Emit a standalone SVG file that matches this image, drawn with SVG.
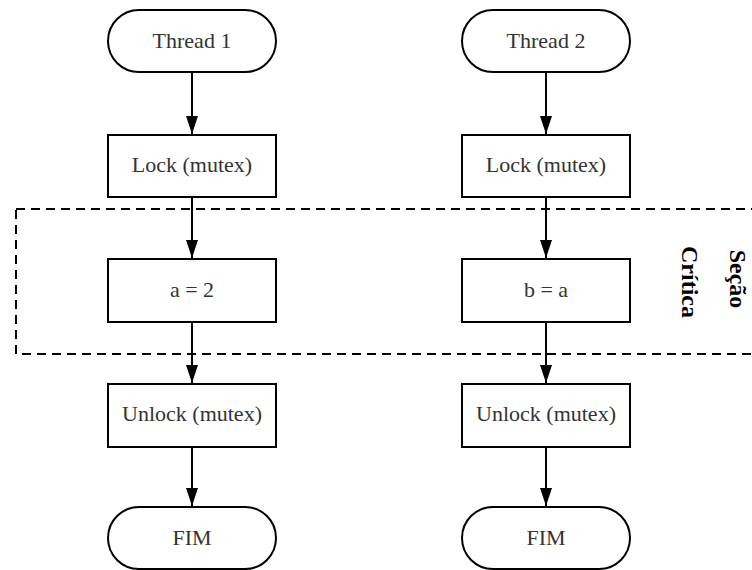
<svg xmlns="http://www.w3.org/2000/svg" width="752" height="570" viewBox="0 0 752 570">
  <style>
    .shape { fill: #ffffff; stroke: #000000; stroke-width: 2; }
    .label { font-family: "Liberation Serif", "Times New Roman", serif; font-size: 22px; fill: #333333; text-anchor: middle; dominant-baseline: central; }
    .edge { stroke: #000000; stroke-width: 2; fill: none; marker-end: url(#arrow); }
    .region { fill: none; stroke: #000000; stroke-width: 2; stroke-dasharray: 9 6; }
    .region-label { font-family: "Liberation Serif", "Times New Roman", serif; font-size: 24px; font-weight: bold; fill: #000000; text-anchor: middle; }
  </style>
  <defs>
    <marker id="arrow" viewBox="0 0 18 12" refX="18" refY="6" markerWidth="18" markerHeight="12" markerUnits="userSpaceOnUse" orient="auto">
      <path d="M0,0 L18,6 L0,12 Z" fill="#000000"/>
    </marker>
  </defs>
  <rect width="752" height="570" fill="#ffffff"/>

  <!-- critical section boundary -->
  <g id="critical-section">
    <rect class="region" x="16" y="209" width="760" height="145"/>
    <text class="region-label" transform="translate(730,279) rotate(90)">Seção</text>
    <text class="region-label" transform="translate(682,282) rotate(90)">Crítica</text>
  </g>

  <!-- connectors -->
  <g id="connectors">
    <line class="edge" x1="192" y1="72" x2="192" y2="134"/>
    <line class="edge" x1="192" y1="197" x2="192" y2="258"/>
    <line class="edge" x1="192" y1="322" x2="192" y2="383"/>
    <line class="edge" x1="192" y1="447" x2="192" y2="506"/>
    <line class="edge" x1="546" y1="72" x2="546" y2="134"/>
    <line class="edge" x1="546" y1="197" x2="546" y2="258"/>
    <line class="edge" x1="546" y1="322" x2="546" y2="383"/>
    <line class="edge" x1="546" y1="447" x2="546" y2="506"/>
  </g>

  <!-- thread 1 -->
  <g id="thread1">
    <rect class="shape" x="108" y="10" width="168" height="62" rx="31" ry="31"/>
    <text class="label" x="192" y="40">Thread 1</text>
  </g>
  <g id="lock1">
    <rect class="shape" x="108" y="135" width="168" height="62"/>
    <text class="label" x="192" y="164">Lock (mutex)</text>
  </g>
  <g id="assign-a">
    <rect class="shape" x="108" y="259" width="168" height="63"/>
    <text class="label" x="192" y="289">a = 2</text>
  </g>
  <g id="unlock1">
    <rect class="shape" x="108" y="384" width="168" height="63"/>
    <text class="label" x="192" y="413">Unlock (mutex)</text>
  </g>
  <g id="end1">
    <rect class="shape" x="108" y="507" width="168" height="62" rx="31" ry="31"/>
    <text class="label" x="192" y="537">FIM</text>
  </g>

  <!-- thread 2 -->
  <g id="thread2">
    <rect class="shape" x="462" y="10" width="168" height="62" rx="31" ry="31"/>
    <text class="label" x="546" y="40">Thread 2</text>
  </g>
  <g id="lock2">
    <rect class="shape" x="462" y="135" width="168" height="62"/>
    <text class="label" x="546" y="164">Lock (mutex)</text>
  </g>
  <g id="assign-b">
    <rect class="shape" x="462" y="259" width="168" height="63"/>
    <text class="label" x="546" y="289">b = a</text>
  </g>
  <g id="unlock2">
    <rect class="shape" x="462" y="384" width="168" height="63"/>
    <text class="label" x="546" y="413">Unlock (mutex)</text>
  </g>
  <g id="end2">
    <rect class="shape" x="462" y="507" width="168" height="62" rx="31" ry="31"/>
    <text class="label" x="546" y="537">FIM</text>
  </g>
</svg>
